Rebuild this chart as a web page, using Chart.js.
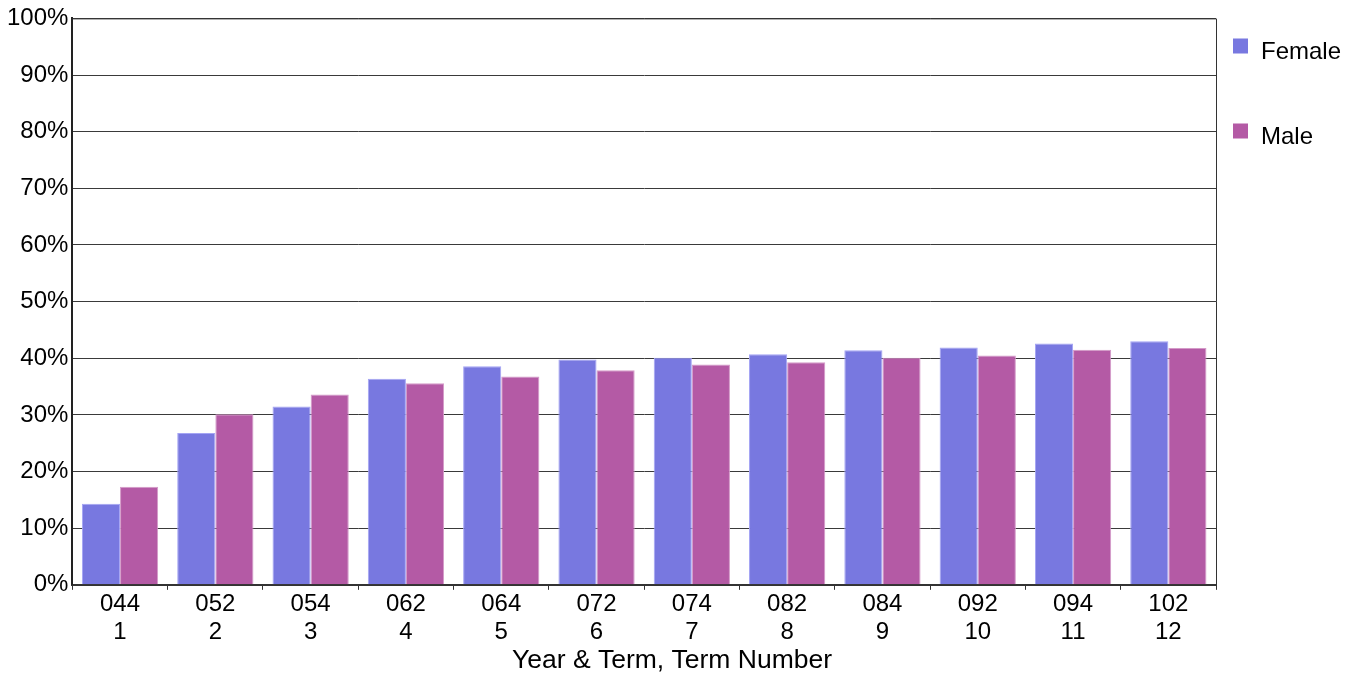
<!DOCTYPE html>
<html>
<head>
<meta charset="utf-8">
<script src="https://cdn.jsdelivr.net/npm/chart.js@4/dist/chart.umd.min.js"></script>
<style>
  body { margin: 0; background: #fff; }
  #wrap { width: 1355px; height: 675px; }
</style>
</head>
<body>
<div id="wrap"><canvas id="myChart" width="1355" height="675"></canvas></div>
<script>
// data
const terms = ['044', '052', '054', '062', '064', '072', '074', '082', '084', '092', '094', '102'];
const termNumbers = ['1', '2', '3', '4', '5', '6', '7', '8', '9', '10', '11', '12'];
const female = [14.3, 26.8, 31.5, 36.4, 38.6, 39.8, 40.1, 40.7, 41.4, 41.9, 42.6, 43.0];
const male = [17.3, 30.1, 33.6, 35.6, 36.8, 37.9, 38.9, 39.3, 40.1, 40.5, 41.5, 41.8];
const yTicks = [0, 10, 20, 30, 40, 50, 60, 70, 80, 90, 100];
const xTitle = 'Year & Term, Term Number';

const labels = terms.map((t, i) => [t, termNumbers[i]]);
const font = 'Liberation Sans, Arial, sans-serif';

// frame round the plot, axis title and legend on the right
const framePlugin = {
  id: 'frame',
  afterDraw(chart) {
    const c = chart.ctx;
    const a = chart.chartArea;
    c.save();
    c.strokeStyle = '#333';
    c.lineWidth = 1;
    c.beginPath();
    c.moveTo(a.left, a.top + 0.5);
    c.lineTo(a.right + 0.5, a.top + 0.5);
    c.lineTo(a.right + 0.5, a.bottom);
    c.stroke();

    c.fillStyle = '#000';
    c.textBaseline = 'middle';
    c.textAlign = 'center';
    c.font = '26.5px ' + font;
    c.fillText(xTitle, 672, 661);

    c.textAlign = 'left';
    c.font = '24px ' + font;
    chart.data.datasets.forEach(function(ds, i) {
      const y = 45.5 + i * 85;
      c.fillStyle = ds.backgroundColor;
      c.fillRect(1233, y - 7, 15, 15);
      c.fillStyle = '#000';
      c.fillText(ds.label, 1261, y + 6.5);
    });
    c.restore();
  }
};

var ctx = document.getElementById('myChart').getContext('2d');

var chart = new Chart(ctx, {
  type: 'bar',
  data: {
    labels: labels,
    datasets: [{
      label: 'Female',
      backgroundColor: '#7878e0',
      borderColor: '#a4a4f4',
      borderWidth: 1,
      data: female,
    },
    {
      label: 'Male',
      backgroundColor: '#b45aa5',
      borderColor: '#d49ac8',
      borderWidth: 1,
      data: male,
    }]
  },
  options: {
    responsive: false,
    animation: false,
    layout: { padding: { top: 1, right: 139, left: 3, bottom: 29 } },
    plugins: {
      legend: { display: false },
      tooltip: { enabled: false },
    },
    datasets: {
      bar: { categoryPercentage: 0.8, barPercentage: 1.0 }
    },
    scales: {
      x: {
        grid: { offset: true, drawOnChartArea: false, color: '#333', tickLength: 5 },
        border: { color: '#333', width: 2 },
        ticks: { color: '#000', font: { family: font, size: 24, lineHeight: 1.17 }, maxRotation: 0, padding: 0 },
      },
      y: {
        min: 0,
        max: 100,
        afterBuildTicks(axis) {
          axis.ticks = yTicks.map(v => ({ value: v }));
        },
        grid: { color: '#3a3a3a', tickLength: 0 },
        border: { color: '#222', width: 2 },
        ticks: {
          color: '#000',
          font: { family: font, size: 24 },
          padding: 4,
          callback: v => v + '%',
        },
      }
    }
  },
  plugins: [framePlugin]
});
</script>
</body>
</html>
